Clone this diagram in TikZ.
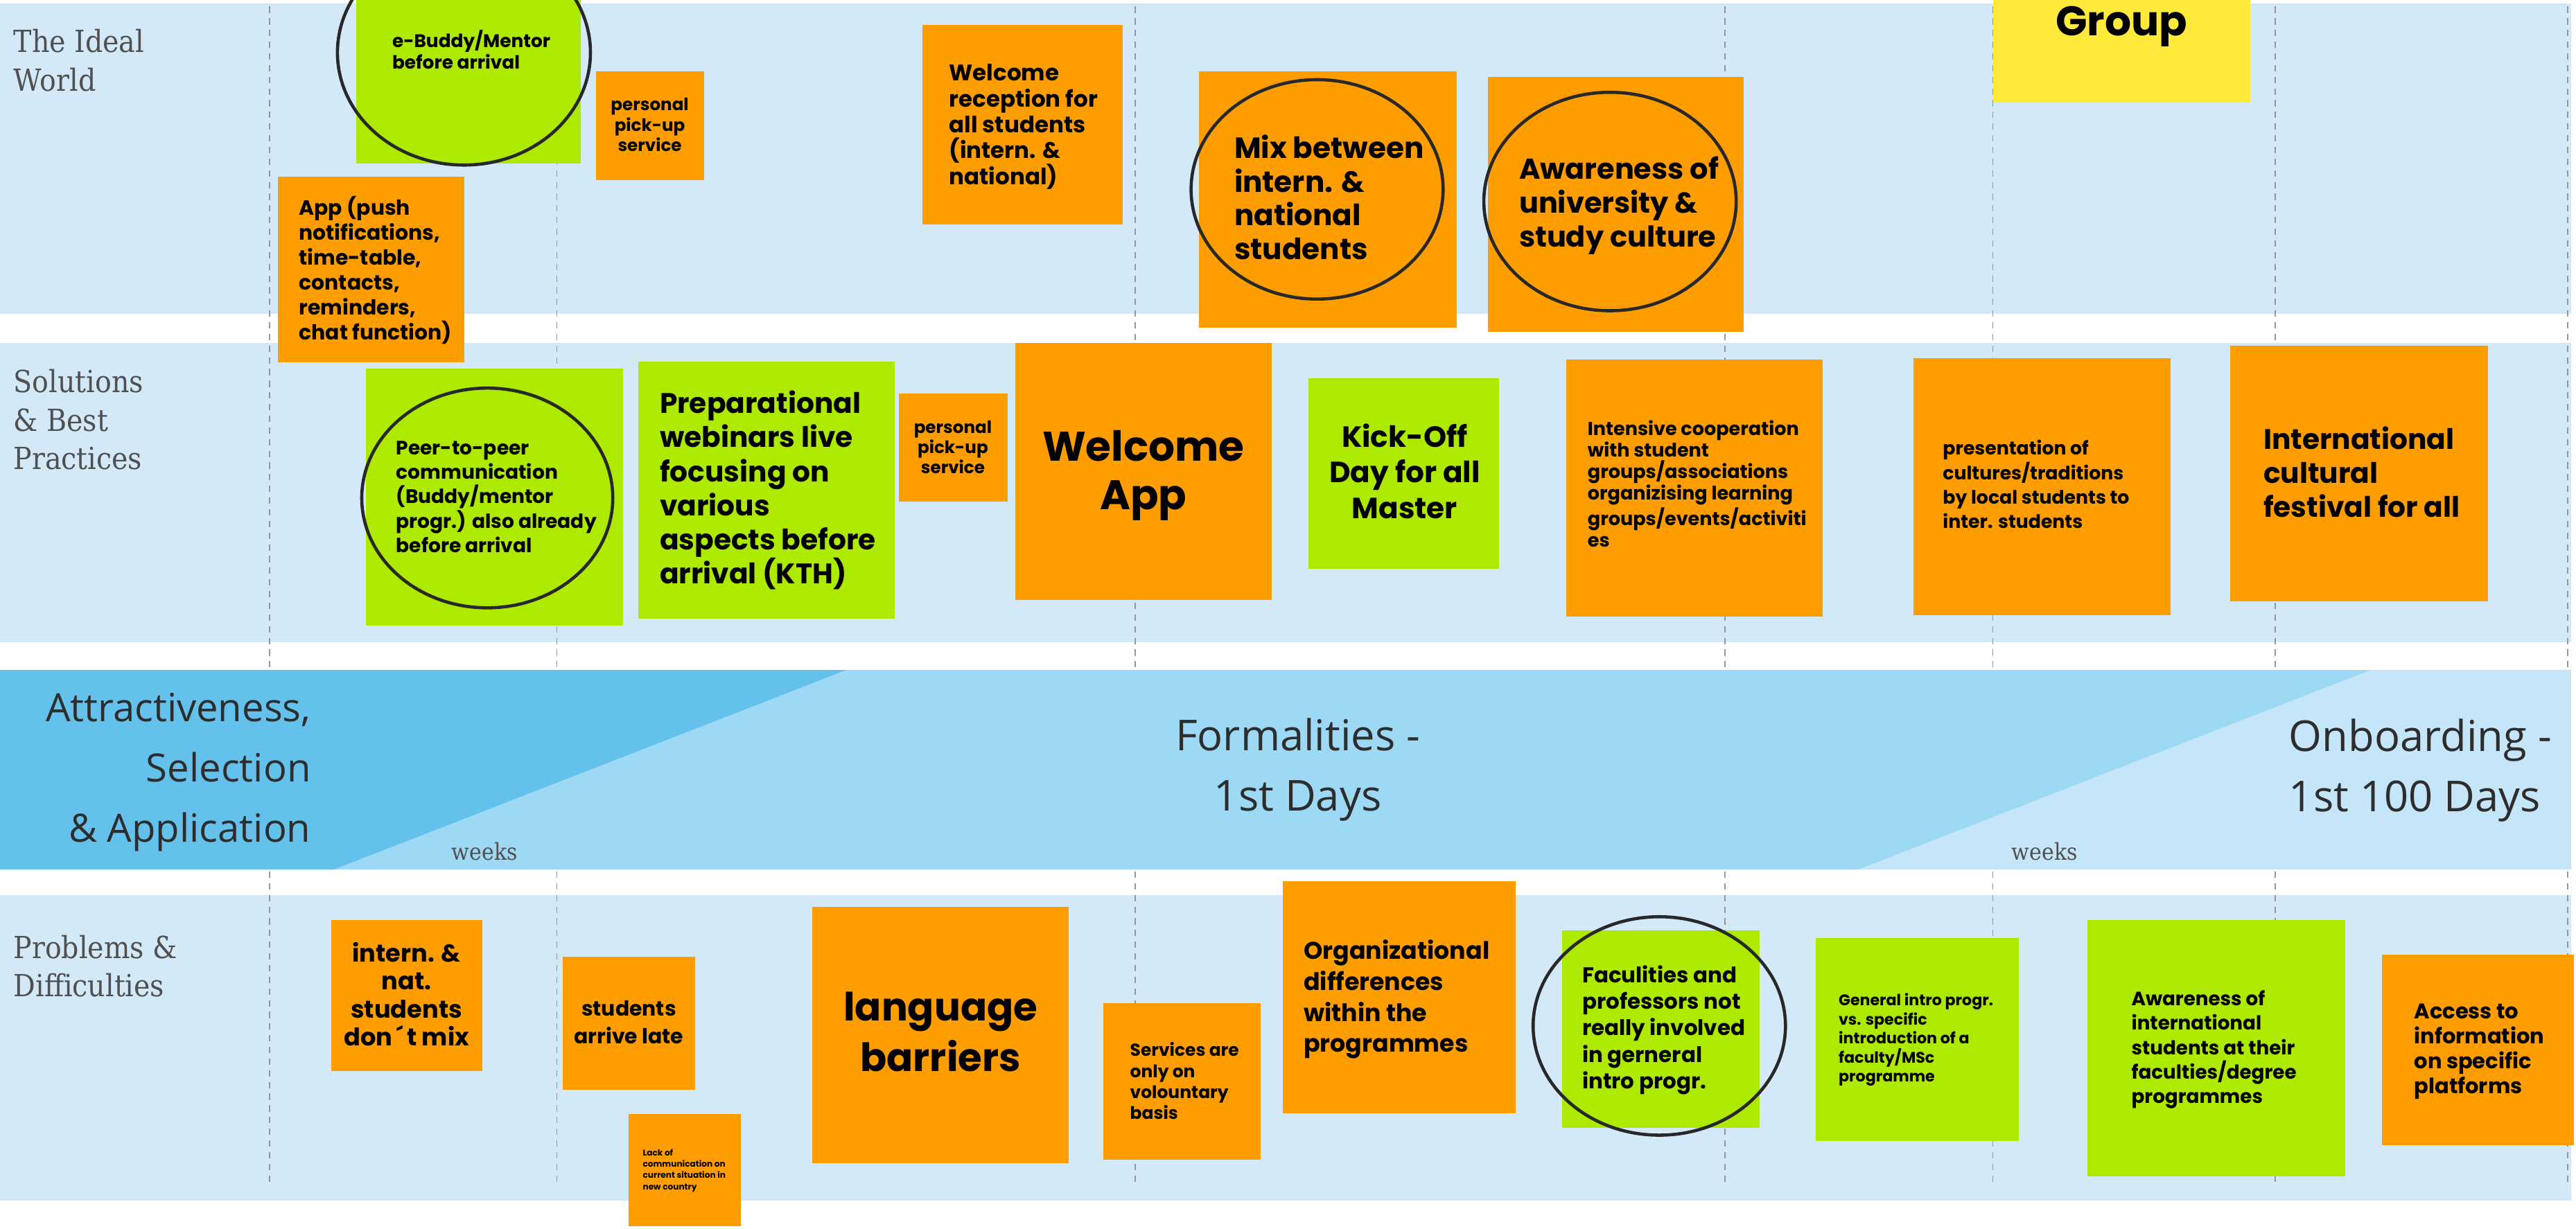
\documentclass[tikz,border=0pt]{standalone}
\usepackage{fontspec}
\usepackage{tikz}
\newfontfamily\notefont{Poppins}
\newfontfamily\lanefont{DejaVu Serif}[FakeStretch=0.9]
\newfontfamily\bandfont{Open Sans}
\definecolor{laneblue}{RGB}{211,233,248}
\definecolor{bandleft}{RGB}{99,193,236}
\definecolor{bandmid}{RGB}{157,216,244}
\definecolor{bandright}{RGB}{197,229,248}
\definecolor{noteorange}{RGB}{253,157,0}
\definecolor{notegreen}{RGB}{174,234,0}
\definecolor{noteyellow}{RGB}{255,233,59}
\definecolor{guidegray}{RGB}{150,150,150}
\definecolor{ringgray}{RGB}{40,40,40}
\definecolor{labelgray}{RGB}{80,80,80}
\definecolor{phasegray}{RGB}{45,45,45}

\begin{document}
\begin{tikzpicture}[x=0.23705mm, y=-0.23705mm,
    lane/.style = {fill=laneblue},
    guide/.style = {draw=guidegray, line width=0.45pt, dash pattern=on 2.6pt off 2.2pt},
    orangenote/.style = {fill=noteorange},
    greennote/.style = {fill=notegreen},
    yellownote/.style = {fill=noteyellow},
    ring/.style = {draw=ringgray, line width=1.3pt},
    sticky/.style 2 args = {inner sep=0pt, anchor=base west, align=left, font=\notefont\bfseries\fontsize{#1}{#2}\selectfont},
    stickymid/.style 2 args = {sticky={#1}{#2}, anchor=base, align=center},
    lanelabel/.style = {inner sep=0pt, anchor=base west, align=left, text=labelgray, font=\lanefont\fontsize{12.5}{15.85}\selectfont},
    phase/.style = {inner sep=0pt, text=phasegray, font=\bandfont\fontsize{17.5}{24.7}\selectfont},
    weeks/.style = {inner sep=0pt, anchor=base, text=labelgray, font=\lanefont\fontsize{9.5}{11}\selectfont}]

    \useasboundingbox (0, 0) rectangle (1568, 748);
    \fill[white] (0, 0) rectangle (1568, 748);

    \fill[lane] (0, 2) rectangle (1565, 191);
    \fill[lane] (0, 209) rectangle (1565, 391);
    \fill[lane] (0, 545) rectangle (1565, 731);
    \foreach \x in {164, 339, 691, 1050, 1213, 1385, 1563}
        \draw[guide] (\x, 4) -- (\x, 722);

    \fill[bandmid] (0, 408) rectangle (1565, 529.5);
    \fill[bandleft] (0, 408) -- (515, 408) -- (203, 529.5) -- (0, 529.5) -- cycle;
    \fill[bandright] (1443, 408) -- (1565, 408) -- (1565, 529.5) -- (1131, 529.5) -- cycle;

    \node [lanelabel] (ideal) at (8, 55.5) {The Ideal\\World};
    \node [lanelabel] (solutions) at (8, 286) {Solutions\\\& Best\\Practices};
    \node [lanelabel] (problems) at (8, 607) {Problems \&\\Difficulties};

    \node [phase, anchor=base east, align=right, font=\bandfont\fontsize{16}{24.7}\selectfont] (attract) at (189.5, 512.6) {Attractiveness,\\Selection\\\& Application};
    \node [phase, anchor=base, align=center] (formal) at (790, 493.6) {Formalities -\\1st Days};
    \node [phase, anchor=base west, align=left] (onboard) at (1393, 494.3) {Onboarding -\\1st 100 Days};
    \node [weeks] (weeksa) at (295, 523.8) {weeks};
    \node [weeks] (weeksb) at (1244.5, 523.8) {weeks};

    \fill[greennote] (216.8, -2) rectangle (353.6, 99.6);
    \draw[ring] (282.4, 32) ellipse [x radius=77, y radius=68.5];
    \node [sticky={7.5}{8.8}] (ebuddy) at (238.5, 41.85) {e-Buddy/Mentor\\before arrival};
    \fill[orangenote] (362.6, 43.3) rectangle (428.7, 109.7);
    \node [stickymid={7}{8.3}] (pickup) at (395.5, 92.1) {personal\\pick-up\\service};
    \fill[orangenote] (169.1, 107.6) rectangle (282.6, 220.8);
    \node [sticky={8.5}{10.25}] (app) at (181.8, 206.8) {App (push\\notifications,\\time-table,\\contacts,\\reminders,\\chat function)};
    \fill[orangenote] (561.5, 15.2) rectangle (683.2, 136.7);
    \node [sticky={9.25}{10.66}] (reception) at (577.5, 112.4) {Welcome\\reception for\\all students\\(intern. \&\\national)};
    \fill[orangenote] (729.9, 43.3) rectangle (886.7, 199.7);
    \draw[ring] (801.7, 115.3) ellipse [x radius=76.7, y radius=66.8];
    \node [sticky={12}{13.9}] (mix) at (751, 158.1) {Mix between\\intern. \&\\national\\students};
    \fill[orangenote] (905.7, 46.8) rectangle (1061.2, 202.2);
    \draw[ring] (980, 122.7) ellipse [x radius=76.8, y radius=66.5];
    \node [sticky={11.8}{14}] (culture) at (924.4, 150.5) {Awareness of\\university \&\\study culture};
    \fill[yellownote] (1213, -2) rectangle (1369.8, 62.6);
    \node [stickymid={17}{20}] (group) at (1291.4, 21.8) {Group};

    \fill[greennote] (222.8, 224.6) rectangle (379.3, 381.1);
    \draw[ring] (296.6, 303.2) ellipse [x radius=76.4, y radius=66.9];
    \node [sticky={8}{10}] (peer) at (240.9, 336.3) {Peer-to-peer\\communication\\(Buddy/mentor\\progr.) also already\\before arrival};
    \fill[greennote] (388.6, 220.1) rectangle (544.8, 376.6);
    \node [sticky={11.6}{14}] (webinars) at (401.3, 355.5) {Preparational\\webinars live\\focusing on\\various\\aspects before\\arrival (KTH)};
    \fill[orangenote] (547.1, 239.4) rectangle (613.2, 305.6);
    \node [stickymid={7}{8.3}] (pickupb) at (580, 288.3) {personal\\pick-up\\service};
    \fill[orangenote] (618.2, 208.8) rectangle (774, 365.4);
    \node [stickymid={17}{19.9}] (welcomeapp) at (696, 310.1) {Welcome\\App};
    \fill[greennote] (796.6, 230.4) rectangle (912.4, 346.2);
    \node [stickymid={12}{14.7}] (kickoff) at (855, 315.7) {Kick-Off\\Day for all\\Master};
    \fill[orangenote] (953.5, 219.1) rectangle (1109.6, 375.5);
    \node [sticky={7.7}{8.9}] (coop) at (966.1, 333.2) {Intensive cooperation\\with student\\groups/associations\\organizising learning\\groups/events/activiti\\es};
    \fill[orangenote] (1164.6, 218) rectangle (1321.4, 374.4);
    \node [sticky={7.6}{10}] (present) at (1182.3, 321.6) {presentation of\\cultures/traditions\\by local students to\\inter. students};
    \fill[orangenote] (1357.4, 210.3) rectangle (1514.2, 366.3);
    \node [sticky={11.6}{14}] (festival) at (1377.5, 315) {International\\cultural\\festival for all};

    \fill[orangenote] (201.5, 560) rectangle (293.6, 652.2);
    \node [stickymid={10}{11.5}] (nomix) at (247.5, 636.75) {intern. \&\\nat.\\students\\don\,´\,t mix};
    \fill[orangenote] (342.6, 582.4) rectangle (423, 663.4);
    \node [stickymid={8.5}{11.2}] (late) at (382.8, 635.3) {students\\arrive late};
    \fill[orangenote] (382.6, 678.2) rectangle (451, 746.6);
    \node [sticky={3.45}{4.6}] (lack) at (391, 724.3) {Lack of\\communication on\\current situation in\\new country};
    \fill[orangenote] (494.4, 552.2) rectangle (650.5, 708.4);
    \node [stickymid={16}{20.9}] (language) at (572.5, 652.5) {language\\barriers};
    \fill[orangenote] (671.6, 610.7) rectangle (767.3, 706.2);
    \node [sticky={7.1}{8.6}] (voluntary) at (687.6, 681.55) {Services are\\only on\\volountary\\basis};
    \fill[orangenote] (781, 536.4) rectangle (922.4, 678);
    \node [sticky={9.9}{12.7}] (orgdiff) at (793.3, 640.7) {Organizational\\differences\\within the\\programmes};
    \fill[greennote] (950.8, 566.7) rectangle (1071.2, 686.9);
    \draw[ring] (1010, 624.7) ellipse [x radius=76.8, y radius=66.5];
    \node [sticky={8.8}{10.9}] (faculties) at (962.8, 662.9) {Faculities and\\professors not\\really involved\\in gerneral\\intro progr.};
    \fill[greennote] (1105.3, 571.3) rectangle (1229, 694.9);
    \node [sticky={6.3}{7.8}] (intro) at (1118.9, 658.7) {General intro progr.\\vs. specific\\introduction of a\\faculty/MSc\\programme};
    \fill[greennote] (1270.7, 560) rectangle (1427.5, 716.1);
    \node [sticky={7.9}{10}] (intlaware) at (1297.1, 671.7) {Awareness of\\international\\students at their\\faculties/degree\\programmes};
    \fill[orangenote] (1449.9, 581.1) rectangle (1566.6, 697.2);
    \node [sticky={8.7}{10.25}] (access) at (1469.2, 665.7) {Access to\\information\\on specific\\platforms};

\end{tikzpicture}
\end{document}
